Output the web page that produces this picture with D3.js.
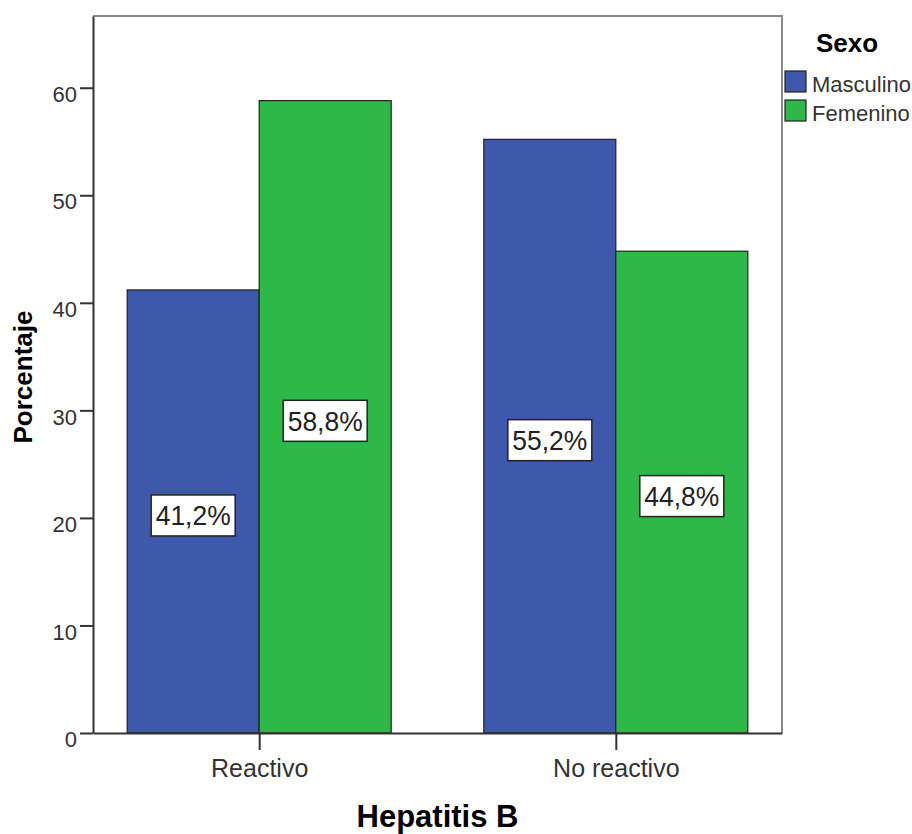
<!DOCTYPE html>
<html>
<head>
<meta charset="utf-8">
<script src="https://cdn.jsdelivr.net/npm/d3@7"></script>
<style>
  html, body { margin: 0; padding: 0; background: #fff; }
  svg { display: block; font-family: "Liberation Sans", Arial, sans-serif; }
</style>
</head>
<body>
<svg id="chart" width="912" height="834"></svg>
<script>
// Porcentaje por sexo según resultado de Hepatitis B
const categories = ["Reactivo", "No reactivo"];
const seriesNames = ["Masculino", "Femenino"];
const masculino = [41.2, 55.2];
const femenino = [58.8, 44.8];
const yTicks = [0, 10, 20, 30, 40, 50, 60];
const colors = ["#3e58ac", "#2eb848"];

const values = [masculino, femenino];
const svg = d3.select("#chart");

const plot = { left: 93, right: 782, top: 16, bottom: 733 };

const y = d3.scaleLinear().domain([0, 66.67]).range([plot.bottom, plot.top]);
const x = d3.scalePoint().domain(categories).range([plot.left, plot.right]).padding(0.466);
const inner = d3.scaleBand().domain(seriesNames).range([-132, 132]).padding(0);

// frame: top and right in gray
svg.append("path")
  .attr("d", `M${plot.left},${plot.top}H${plot.right}V${plot.bottom}`)
  .attr("fill", "none").attr("stroke", "#8a8a8a").attr("stroke-width", 2);

// bars
const groups = svg.append("g").selectAll("g")
  .data(categories).join("g")
  .attr("transform", d => `translate(${x(d)},0)`);

groups.each(function(cat, ci) {
  const g = d3.select(this);
  seriesNames.forEach((s, si) => {
    const v = values[si][ci];
    g.append("rect")
      .attr("x", inner(s))
      .attr("width", inner.bandwidth())
      .attr("y", y(v))
      .attr("height", y(0) - y(v))
      .attr("fill", colors[si])
      .attr("stroke", "#222").attr("stroke-width", 1.2);
  });
});

// value labels in boxes at bar middle
groups.each(function(cat, ci) {
  const g = d3.select(this);
  seriesNames.forEach((s, si) => {
    const v = values[si][ci];
    const cx = inner(s) + inner.bandwidth() / 2;
    const cy = (y(v) + y(0)) / 2 + 4;
    g.append("rect")
      .attr("x", cx - 42).attr("y", cy - 20.5)
      .attr("width", 84).attr("height", 41)
      .attr("fill", "#fff").attr("stroke", "#222").attr("stroke-width", 1.5);
    g.append("text")
      .attr("x", cx).attr("y", cy + 10)
      .attr("text-anchor", "middle")
      .attr("font-size", 27)
      .attr("fill", "#222")
      .attr("textLength", 75).attr("lengthAdjust", "spacingAndGlyphs")
      .text(d3.format(".1f")(v).replace(".", ",") + "%");
  });
});

// y axis
const yAxis = svg.append("g")
  .attr("transform", `translate(${plot.left},0)`)
  .call(d3.axisLeft(y).tickValues(yTicks).tickSize(13).tickSizeOuter(0).tickPadding(3).tickFormat(d3.format("d")));
yAxis.select(".domain").attr("stroke", "#333").attr("stroke-width", 2);
yAxis.selectAll(".tick line").attr("stroke", "#333").attr("stroke-width", 2);
yAxis.selectAll(".tick text")
  .attr("font-size", 22).attr("fill", "#333")
  .attr("font-family", "Liberation Sans, Arial, sans-serif")
  .attr("dy", "0.62em");

// x axis
const xAxis = svg.append("g")
  .attr("transform", `translate(0,${plot.bottom})`)
  .call(d3.axisBottom(x).tickSize(17).tickPadding(9).tickSizeOuter(0));
xAxis.select(".domain").attr("stroke", "#333").attr("stroke-width", 2);
xAxis.selectAll(".tick line").attr("stroke", "#333").attr("stroke-width", 2);
xAxis.selectAll(".tick text")
  .attr("font-size", 25).attr("fill", "#333")
  .attr("font-family", "Liberation Sans, Arial, sans-serif");

// axis titles
svg.append("text")
  .attr("x", (plot.left + plot.right) / 2).attr("y", 827)
  .attr("text-anchor", "middle")
  .attr("font-size", 31).attr("font-weight", "bold").attr("fill", "#000")
  .text("Hepatitis B");

svg.append("text")
  .attr("transform", `translate(32,377) rotate(-90)`)
  .attr("text-anchor", "middle")
  .attr("font-size", 26).attr("font-weight", "bold").attr("fill", "#000")
  .text("Porcentaje");

// legend
const legend = svg.append("g");
legend.append("text")
  .attr("x", 816).attr("y", 52)
  .attr("font-size", 26).attr("font-weight", "bold").attr("fill", "#000")
  .text("Sexo");
seriesNames.forEach((s, i) => {
  const ly = 71 + i * 29;
  legend.append("rect")
    .attr("x", 785).attr("y", ly).attr("width", 21).attr("height", 21)
    .attr("fill", colors[i]).attr("stroke", "#222").attr("stroke-width", 1.2);
  legend.append("text")
    .attr("x", 812).attr("y", ly + 21)
    .attr("font-size", 22).attr("fill", "#333")
    .text(s);
});
</script>
</body>
</html>
